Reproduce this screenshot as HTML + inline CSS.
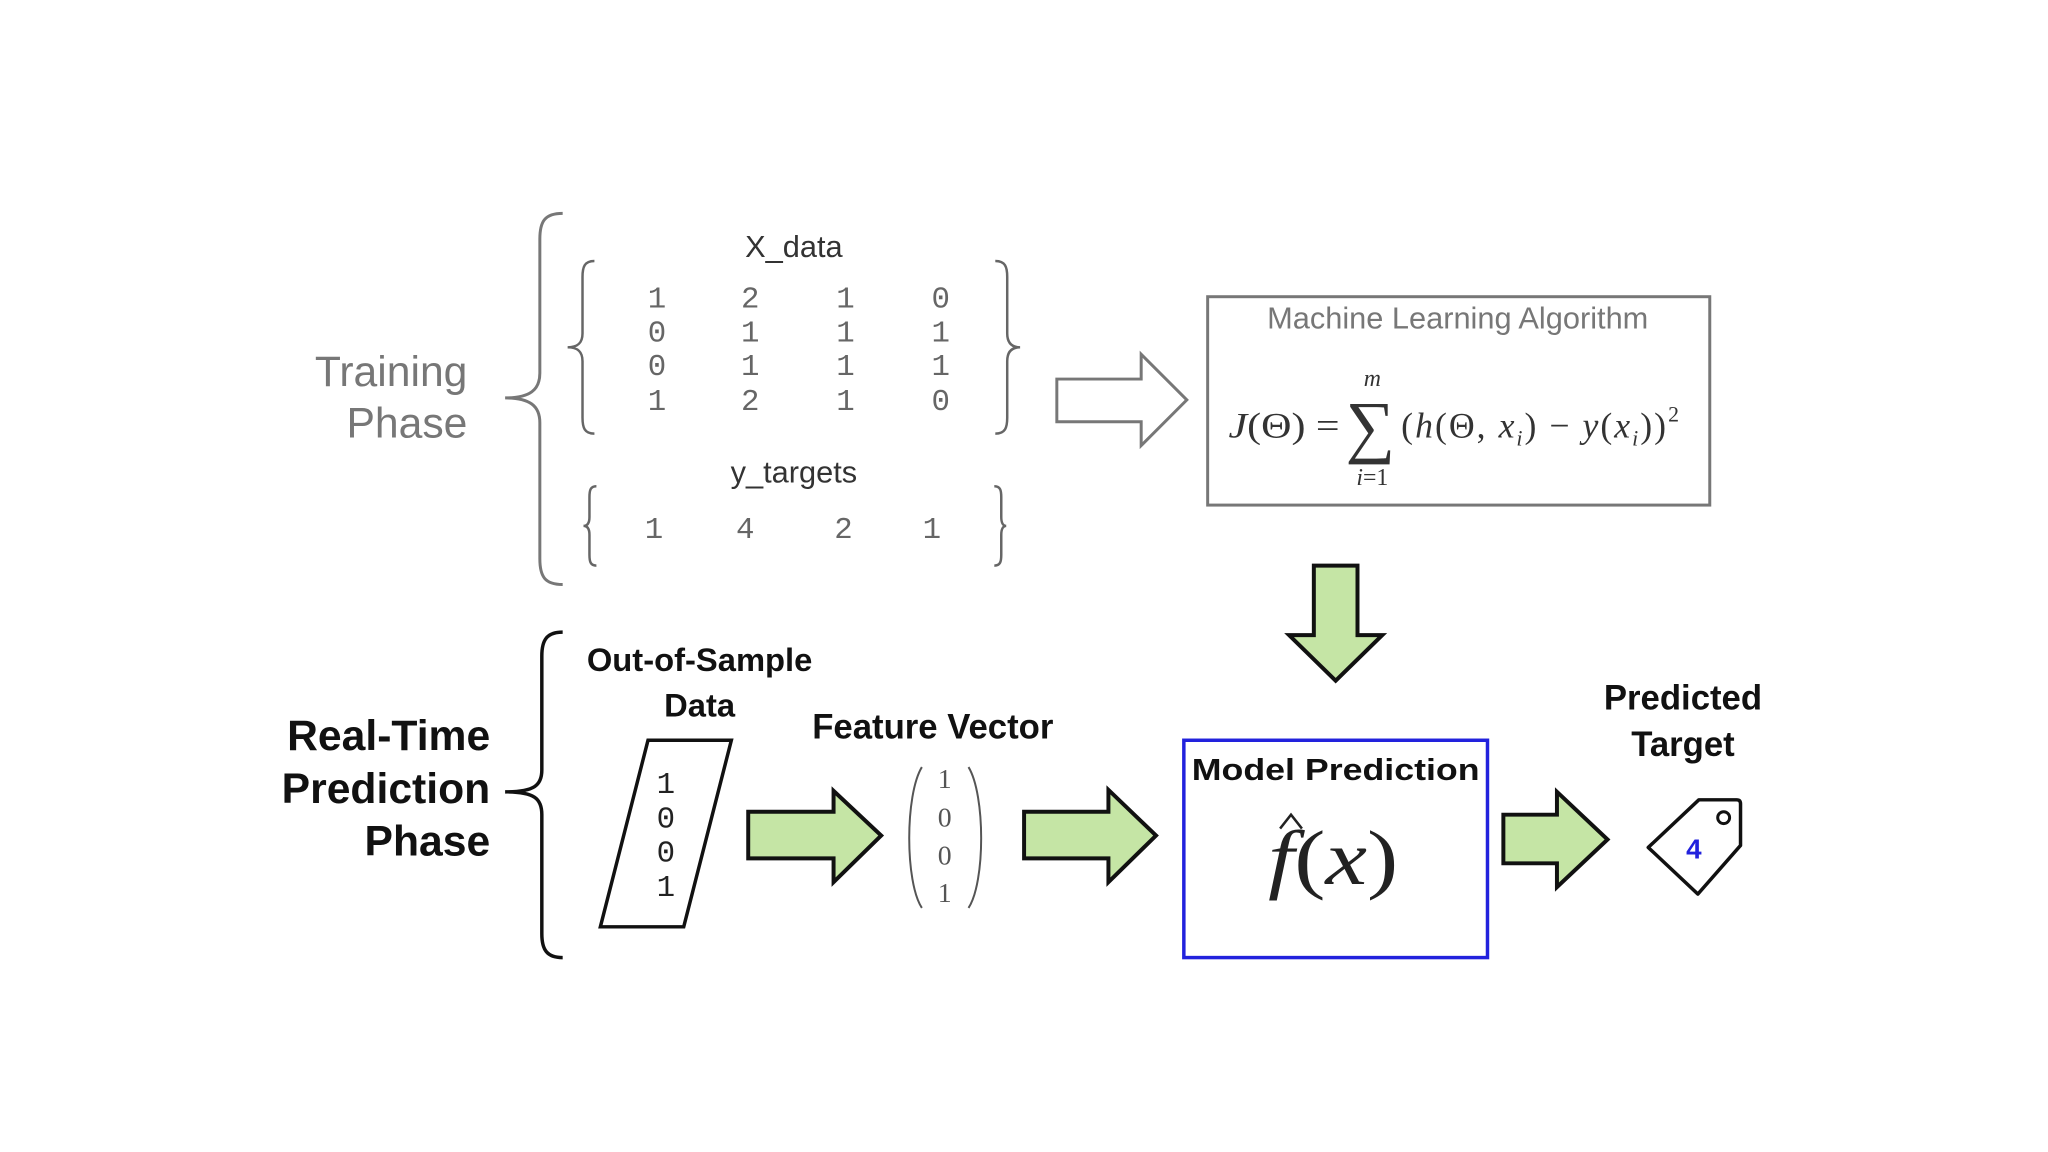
<!DOCTYPE html>
<html><head><meta charset="utf-8"><style>
html,body{margin:0;padding:0;background:#fff;}
svg{display:block}
</style></head><body>
<svg width="2048" height="1152" viewBox="0 0 2048 1152" xmlns="http://www.w3.org/2000/svg">
<rect width="2048" height="1152" fill="#fff"/>
<g transform="translate(4,1) scale(0.9923)">
<!-- Training phase -->
<g font-family="Liberation Sans, sans-serif" fill="#777" font-size="43" text-anchor="end">
<text x="467" y="388">Training</text>
<text x="467" y="440">Phase</text>
</g>
<path d="M563,214 C545,214 540,222 540,240 L540,375 C540,392 530,400 505,400 C530,400 540,408 540,425 L540,562 C540,580 545,588 563,588" fill="none" stroke="#777" stroke-width="3"/>
<g font-family="Liberation Sans, sans-serif" fill="#333" font-size="31" text-anchor="middle">
<text x="796" y="258">X_data</text>
<text x="796" y="485">y_targets</text>
</g>
<path d="M595,262 C585,262 583,268 583,278 L583,335 C583,345 578,349 568,349 C578,349 583,353 583,363 L583,420 C583,430 585,436 595,436" fill="none" stroke="#666" stroke-width="2.5"/>
<path d="M999,262 C1009,262 1011,268 1011,278 L1011,335 C1011,345 1016,349 1024,349 C1016,349 1011,353 1011,363 L1011,420 C1011,430 1009,436 999,436" fill="none" stroke="#666" stroke-width="2.5"/>
<g font-family="Liberation Mono, monospace" fill="#666" font-size="31" text-anchor="middle">
<text x="658" y="309">1</text><text x="752" y="309">2</text><text x="848" y="309">1</text><text x="944" y="309">0</text>
<text x="658" y="343">0</text><text x="752" y="343">1</text><text x="848" y="343">1</text><text x="944" y="343">1</text>
<text x="658" y="377">0</text><text x="752" y="377">1</text><text x="848" y="377">1</text><text x="944" y="377">1</text>
<text x="658" y="412">1</text><text x="752" y="412">2</text><text x="848" y="412">1</text><text x="944" y="412">0</text>
<text x="655" y="541">1</text><text x="747" y="541">4</text><text x="846" y="541">2</text><text x="935" y="541">1</text>
</g>
<path d="M597,489 C591,489 590,493 590,500 L590,520 C590,526 588,529 584,529 C588,529 590,532 590,538 L590,558 C590,565 591,569 597,569" fill="none" stroke="#666" stroke-width="2.5"/>
<path d="M998,489 C1004,489 1005,493 1005,500 L1005,520 C1005,526 1007,529 1010,529 C1007,529 1005,532 1005,538 L1005,558 C1005,565 1004,569 998,569" fill="none" stroke="#666" stroke-width="2.5"/>
<!-- hollow arrow -->
<path d="M1061,381 L1146,381 L1146,356 L1192,402 L1146,448 L1146,424 L1061,424 Z" fill="#fff" stroke="#777" stroke-width="3"/>
<!-- ML box -->
<rect x="1213" y="298" width="506" height="210" fill="#fff" stroke="#777" stroke-width="3"/>
<text x="1465" y="330" font-family="Liberation Sans, sans-serif" font-size="31" fill="#777" text-anchor="middle">Machine Learning Algorithm</text>
<g font-family="Liberation Serif, serif" fill="#333" font-size="36">
<text x="1234" y="440" textLength="112" lengthAdjust="spacingAndGlyphs"><tspan font-style="italic">J</tspan>(Θ) =</text>
<text x="1352" y="452" font-size="70">∑</text>
<text x="1379" y="388" font-size="24" font-style="italic" text-anchor="middle">m</text>
<text x="1379" y="488" font-size="24" text-anchor="middle"><tspan font-style="italic">i</tspan>=1</text>
<text x="1408" y="440" textLength="280" lengthAdjust="spacing">(<tspan font-style="italic">h</tspan>(Θ, <tspan font-style="italic">x</tspan><tspan font-size="22" font-style="italic" dy="8">i</tspan><tspan dy="-8">) − </tspan><tspan font-style="italic">y</tspan>(<tspan font-style="italic">x</tspan><tspan font-size="22" font-style="italic" dy="8">i</tspan><tspan dy="-8">))</tspan><tspan font-size="22" dy="-16">2</tspan></text>
</g>
<!-- down arrow -->
<path d="M1320,569 L1364,569 L1364,639 L1389,639 L1342,685 L1295,639 L1320,639 Z" fill="#c5e5a5" stroke="#111" stroke-width="4"/>
<!-- Real time -->
<g font-family="Liberation Sans, sans-serif" font-weight="bold" fill="#111" font-size="43" text-anchor="end">
<text x="490" y="755">Real-Time</text>
<text x="490" y="808">Prediction</text>
<text x="490" y="861">Phase</text>
</g>
<path d="M563,636 C547,636 542,644 542,660 L542,775 C542,790 535,797 505,797 C535,797 542,804 542,820 L542,940 C542,956 547,964 563,964" fill="none" stroke="#111" stroke-width="3.5"/>
<rect x="1189" y="745" width="306" height="219" fill="#fff" stroke="#2222dd" stroke-width="3.5"/>
<g font-family="Liberation Sans, sans-serif" font-weight="bold" fill="#111" font-size="33" text-anchor="middle">
<text x="701" y="675">Out-of-Sample</text>
<text x="701" y="721">Data</text>
<text x="936" y="743" font-size="35">Feature Vector</text>
<text x="1342" y="785" font-size="31" textLength="290" lengthAdjust="spacingAndGlyphs">Model Prediction</text>
<text x="1692" y="714" font-size="35">Predicted</text>
<text x="1692" y="761" font-size="35">Target</text>
</g>
<path d="M649,745 L733,745 L685,933 L601,933 Z" fill="#fff" stroke="#111" stroke-width="3.5"/>
<g font-family="Liberation Mono, monospace" fill="#222" font-size="31" text-anchor="middle">
<text x="667" y="798">1</text><text x="667" y="833">0</text><text x="667" y="867">0</text><text x="667" y="902">1</text>
</g>
<path d="M750,817 L836,817 L836,796 L884,841 L836,888 L836,864 L750,864 Z" fill="#c5e5a5" stroke="#111" stroke-width="4"/>
<path d="M925,772 C908,800 908,888 925,914" fill="none" stroke="#555" stroke-width="2"/>
<path d="M972,772 C989,800 989,888 972,914" fill="none" stroke="#555" stroke-width="2"/>
<g font-family="Liberation Serif, serif" fill="#555" font-size="28" text-anchor="middle">
<text x="948" y="793">1</text><text x="948" y="832">0</text><text x="948" y="870">0</text><text x="948" y="908">1</text>
</g>
<path d="M1028,817 L1113,817 L1113,795 L1161,841 L1113,888 L1113,864 L1028,864 Z" fill="#c5e5a5" stroke="#111" stroke-width="4"/>
<text x="1274" y="890" font-family="Liberation Serif, serif" font-size="78" fill="#222" textLength="131" lengthAdjust="spacingAndGlyphs"><tspan font-style="italic">f</tspan>(<tspan font-style="italic">x</tspan>)</text>
<path d="M1286,834 L1297,820 L1308,834" fill="none" stroke="#222" stroke-width="2.5"/>
<path d="M1511,820 L1565,820 L1565,797 L1616,845 L1565,893 L1565,869 L1511,869 Z" fill="#c5e5a5" stroke="#111" stroke-width="4"/>
<path d="M1657,853 L1708,805 L1746,805 Q1750,805 1750,809 L1750,851 L1707,900 Z" fill="#fff" stroke="#111" stroke-width="3.5" stroke-linejoin="round"/>
<circle cx="1733" cy="823" r="6" fill="none" stroke="#111" stroke-width="3"/>
<text x="1703" y="864" font-family="Liberation Sans, sans-serif" font-weight="bold" font-size="28" fill="#2222dd" text-anchor="middle">4</text>
</g>
</svg>
</body></html>
